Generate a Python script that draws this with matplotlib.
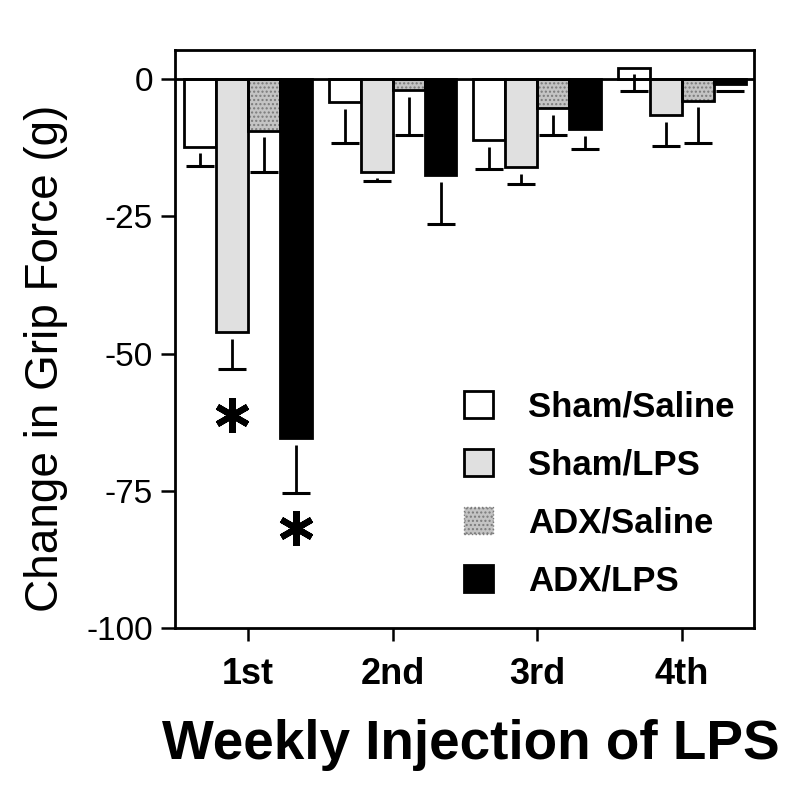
import numpy as np
import matplotlib
matplotlib.use("Agg")
import matplotlib.pyplot as plt
from matplotlib.patches import Patch

plt.rcParams["font.family"] = ["Liberation Sans", "DejaVu Sans"]

# -------------------------------------------------------------------
# Data
# -------------------------------------------------------------------
weeks = ["1st", "2nd", "3rd", "4th"]
groups = ["Sham/Saline", "Sham/LPS", "ADX/Saline", "ADX/LPS"]

sham_saline = [-12.3, -4.2, -11.1, 2.1]
sham_lps = [-46.1, -16.9, -16.0, -6.6]
adx_saline = [-9.4, -2.0, -5.3, -3.9]
adx_lps = [-65.4, -17.5, -9.1, -0.8]

sham_saline_err = [3.5, 7.5, 5.3, 4.3]
sham_lps_err = [6.7, 1.7, 3.1, 5.6]
adx_saline_err = [7.5, 8.2, 4.9, 7.8]
adx_lps_err = [10.0, 8.9, 3.7, 1.4]

# significance stars: (week index, series index, y)
star_week = [0, 0]
star_series = [1, 3]
star_y = [-61.2, -81.8]

values = [sham_saline, sham_lps, adx_saline, adx_lps]
errors = [sham_saline_err, sham_lps_err, adx_saline_err, adx_lps_err]
faces = ["white", "#e0e0e0", "#c4c4c4", "black"]

# -------------------------------------------------------------------
# Plot
# -------------------------------------------------------------------
fig = plt.figure(figsize=(7.98, 7.94), dpi=100)
ax = fig.add_axes([0.2193, 0.209, 0.7256, 0.728])

x = np.arange(len(weeks))
w = 0.221
offsets = [-1.5 * w, -0.5 * w, 0.5 * w, 1.5 * w]
gap = 1.2

for i in range(4):
    xs = x + offsets[i]
    vals = np.array(values[i])
    errs = np.array(errors[i])
    if groups[i] == "ADX/Saline":
        ax.bar(xs, vals, w, color=faces[i], edgecolor="#7a7a7a", hatch="....",
               linewidth=0, zorder=2)
        ax.bar(xs, vals, w, fill=False, edgecolor="black", linewidth=2, zorder=3)
    else:
        ax.bar(xs, vals, w, color=faces[i], edgecolor="black", linewidth=2, zorder=3)
    # one-sided error bar hanging below the bar, with a small gap
    ax.vlines(xs, vals - gap, vals - errs, color="black", linewidth=2, zorder=4)
    ax.plot(xs, vals - errs, linestyle="none", marker="_", markersize=20,
            markeredgewidth=2.2, color="black", zorder=4)

for wk, s, yv in zip(star_week, star_series, star_y):
    ax.plot(x[wk] + offsets[s], yv, marker=(6, 2, 0), markersize=25,
            markeredgewidth=4.5, color="black", zorder=5)

ax.axhline(0, color="black", linewidth=2, zorder=4)

ax.set_xlim(-0.505, 3.5)
ax.set_ylim(-100, 5.3)
ax.set_yticks([0, -25, -50, -75, -100])
ax.set_yticklabels(["0", "-25", "-50", "-75", "-100"], fontsize=24)
ax.set_xticks(x)
ax.set_xticklabels(weeks, fontsize=26, fontweight="bold")
ax.tick_params(axis="y", length=10, width=1.8, pad=6)
ax.tick_params(axis="x", length=9, width=1.8, pad=12)
for sp in ax.spines.values():
    sp.set_linewidth(2)

fig.text(46 / 798, 1 - 358 / 794, "Change in Grip Force (g)", rotation=90,
         ha="center", va="center", fontsize=33)
fig.text(471 / 798, 1 - 745 / 794, "Weekly Injection of LPS",
         ha="center", va="center", fontsize=39.5, fontweight="bold")

handles = [
    Patch(facecolor="white", edgecolor="black", linewidth=2),
    Patch(facecolor="#e0e0e0", edgecolor="black", linewidth=2),
    Patch(facecolor="#c4c4c4", edgecolor="#7a7a7a", hatch="....", linewidth=1,
          linestyle=":"),
    Patch(facecolor="black", edgecolor="black", linewidth=2),
]
leg = ax.legend(handles, groups, loc="upper left", bbox_to_anchor=(0.445, 0.465),
                frameon=False, prop={"size": 25, "weight": "bold"},
                handlelength=0.85, handleheight=0.85, handletextpad=1.0,
                labelspacing=0.72)

fig.savefig("out.png", dpi=100)
print("Saved out.png")
